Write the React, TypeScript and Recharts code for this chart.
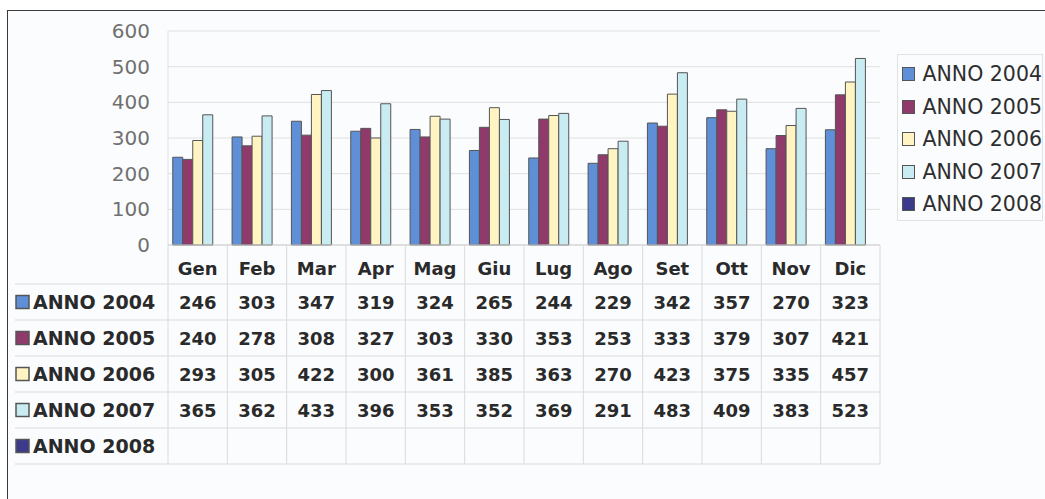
import React from 'react';
import { BarChart, Bar, XAxis, YAxis, CartesianGrid, Legend } from 'recharts';

const months = ['Gen', 'Feb', 'Mar', 'Apr', 'Mag', 'Giu', 'Lug', 'Ago', 'Set', 'Ott', 'Nov', 'Dic'];
const anno2004 = [246, 303, 347, 319, 324, 265, 244, 229, 342, 357, 270, 323];
const anno2005 = [240, 278, 308, 327, 303, 330, 353, 253, 333, 379, 307, 421];
const anno2006 = [293, 305, 422, 300, 361, 385, 363, 270, 423, 375, 335, 457];
const anno2007 = [365, 362, 433, 396, 353, 352, 369, 291, 483, 409, 383, 523];
const anno2008 = [null, null, null, null, null, null, null, null, null, null, null, null];
const yTicks = [0, 100, 200, 300, 400, 500, 600];

const SERIES = [
  { key: 'a2004', name: 'ANNO 2004', color: '#5f8fd6', values: anno2004 },
  { key: 'a2005', name: 'ANNO 2005', color: '#903a6c', values: anno2005 },
  { key: 'a2006', name: 'ANNO 2006', color: '#fff4c2', values: anno2006 },
  { key: 'a2007', name: 'ANNO 2007', color: '#c9ecf3', values: anno2007 },
  { key: 'a2008', name: 'ANNO 2008', color: '#3c3a8c', values: anno2008 },
];

const data = months.map((m, i) => {
  const row: Record<string, string | number | null> = { month: m };
  SERIES.forEach((s) => (row[s.key] = s.values[i]));
  return row;
});

const W = 1045;
const H = 499;
const PLOT_LEFT = 168;
const PLOT_RIGHT = 880;
const FONT = '"DejaVu Sans", sans-serif';
const LINE = '#dadada';

const Swatch = ({ color, x, y }: { color: string; x: number; y: number }) => (
  <rect x={x} y={y} width={13} height={13} fill={color} stroke="#555" strokeWidth={1.5} />
);

const TableTick = (props: any) => {
  const { x, y, index, payload } = props;
  const band = (PLOT_RIGHT - PLOT_LEFT) / months.length;
  const left = x - band / 2;
  const right = x + band / 2;
  const bottom = y + 219;
  return (
    <g fontFamily={FONT} fontWeight="bold" fill="#2a2a2a">
      <line x1={left} x2={left} y1={y} y2={bottom} stroke={LINE} />
      {index === months.length - 1 && <line x1={right} x2={right} y1={y} y2={bottom} stroke={LINE} />}
      <text x={x} y={y + 23} textAnchor="middle" dominantBaseline="central" fontSize={18}>
        {payload.value}
      </text>
      {SERIES.map((s, i) => (
        <text key={s.key} x={x} y={y + 57 + i * 36} textAnchor="middle" dominantBaseline="central" fontSize={18}>
          {s.values[index] ?? ''}
        </text>
      ))}
      {index === 0 && (
        <g>
          {[0, 1, 2, 3, 4, 5].map((r) => (
            <line key={r} x1={15} x2={PLOT_RIGHT} y1={y + 39 + r * 36} y2={y + 39 + r * 36} stroke={LINE} />
          ))}
          {SERIES.map((s, i) => (
            <g key={s.key}>
              <Swatch color={s.color} x={16} y={y + 57 + i * 36 - 6.5} />
              <text x={33} y={y + 57 + i * 36} dominantBaseline="central" fontSize={19}>
                {s.name}
              </text>
            </g>
          ))}
        </g>
      )}
    </g>
  );
};

const LegendBox = () => (
  <div
    style={{
      border: '1px solid #e2e2e2',
      paddingTop: 3,
      height: 162,
      fontFamily: FONT,
      fontSize: 20.5,
      color: '#2e2e2e',
    }}
  >
    {SERIES.map((s) => (
      <div key={s.key} style={{ height: 32.5, display: 'flex', alignItems: 'center', whiteSpace: 'nowrap' }}>
        <span
          style={{
            display: 'inline-block',
            width: 12,
            height: 12,
            marginLeft: 4,
            marginRight: 7,
            background: s.color,
            border: '1.5px solid #555',
          }}
        />
        {s.name}
      </div>
    ))}
  </div>
);

export default function App() {
  return (
    <div style={{ position: 'absolute', left: 0, top: 0, width: W, height: H, overflow: 'hidden', background: '#fff' }}>
      <div
        style={{
          position: 'absolute',
          left: 7,
          top: 10,
          width: 1200,
          height: 700,
          borderTop: '1.5px solid #3a3a3a',
          borderLeft: '1.5px solid #3a3a3a',
          background: '#fbfcfe',
        }}
      />
      <div style={{ position: 'absolute', left: 0, top: 0 }}>
        <BarChart
          width={W}
          height={H}
          data={data}
          margin={{ top: 31, right: W - PLOT_RIGHT, bottom: 0, left: 0 }}
          barGap={0}
          barCategoryGap="8%"
        >
          <CartesianGrid vertical={false} stroke="#e0e0e0" />
          <XAxis
            dataKey="month"
            height={254}
            interval={0}
            tickLine={false}
            tickSize={0}
            tickMargin={0}
            axisLine={{ stroke: '#cfcfcf' }}
            tick={<TableTick />}
          />
          <YAxis
            width={PLOT_LEFT}
            domain={[0, 600]}
            ticks={yTicks}
            tickLine={false}
            tickSize={0}
            tickMargin={18}
            axisLine={{ stroke: '#e0e0e0' }}
            tick={{ fill: '#707070', fontSize: 20, fontFamily: FONT }}
          />
          <Legend
            layout="vertical"
            align="center"
            verticalAlign="middle"
            wrapperStyle={{ left: 897, top: 54, width: 146, height: 166 }}
            content={<LegendBox />}
          />
          {SERIES.map((s) => (
            <Bar
              key={s.key}
              dataKey={s.key}
              name={s.name}
              fill={s.color}
              stroke="#555"
              strokeWidth={1}
              isAnimationActive={false}
            />
          ))}
        </BarChart>
      </div>
    </div>
  );
}
